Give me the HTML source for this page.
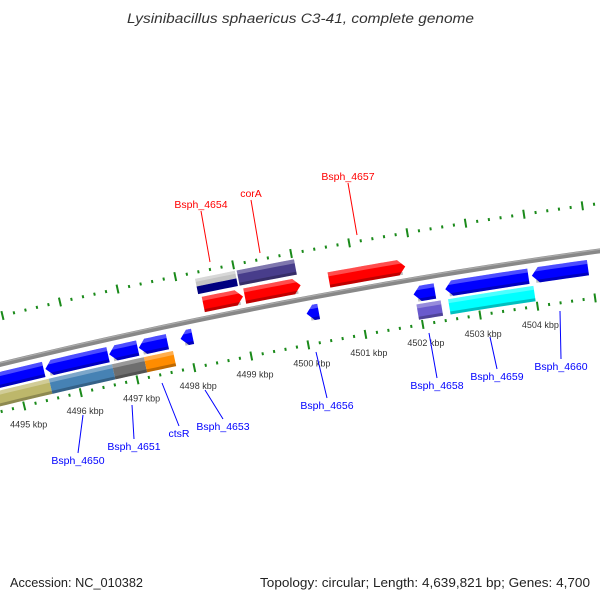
<!DOCTYPE html>
<html><head><meta charset="utf-8"><style>
body{margin:0;background:#fff}
svg{display:block}
text{font-family:"Liberation Sans",sans-serif}
</style></head><body>
<svg id="c" width="600" height="600" viewBox="0 0 600 600" xmlns="http://www.w3.org/2000/svg">
<text x="127" y="23" textLength="347" lengthAdjust="spacingAndGlyphs" font-size="13.5" font-style="italic" fill="#333">Lysinibacillus sphaericus C3-41, complete genome</text>
<g id="rings"></g>
<text x="10" y="587" textLength="133" lengthAdjust="spacingAndGlyphs" font-size="13" fill="#222">Accession: NC_010382</text>
<text x="260" y="587" textLength="330" lengthAdjust="spacingAndGlyphs" font-size="13" fill="#222">Topology: circular; Length: 4,639,821 bp; Genes: 4,700</text>
</svg>
<script>
// data
const geneNames = ["Bsph_4650a","Bsph_4650","Bsph_4651","ctsR_r1","Bsph_4653","Bsph_4656","Bsph_4658","Bsph_4659","Bsph_4660","Bsph_4649b","Bsph_4650b","Bsph_4651b","ctsR","Bsph_4658b","Bsph_4659b","Bsph_4654b","corA","Bsph_4654","corA_f","Bsph_4657"];
const geneStart = [4494.3,4495.50,4496.62,4497.14,4497.87,4500.07,4501.93,4502.48,4503.98,4494.3,4495.52,4496.63,4497.19,4501.95,4502.50,4498.32,4499.04,4498.37,4499.09,4500.55];
const geneEnd   = [4495.47,4496.60,4497.12,4497.64,4498.08,4500.28,4502.30,4503.92,4504.95,4495.52,4496.63,4497.19,4497.70,4502.37,4503.98,4499.01,4500.03,4499.06,4500.06,4501.87];
const geneRow   = ["r1","r1","r1","r1","r1","r1","r1","r1","r1","r2","r2","r2","r2","r2","r2","f2","f2","f1","f1","f1"];
const geneStrand= [-1,-1,-1,-1,-1,-1,-1,-1,-1,0,0,0,0,0,0,0,0,1,1,1];
const geneColor = ["#0000ff","#0000ff","#0000ff","#0000ff","#0000ff","#0000ff","#0000ff","#0000ff","#0000ff","#bdb76b","#4682b4","#6e6e6e","#ff8c00","#6a5acd","#00ffff","split","#483d8b","#ff0000","#ff0000","#ff0000"];
const tickKbp = [4495,4496,4497,4498,4499,4500,4501,4502,4503,4504];
const tickLabels = ["4495 kbp","4496 kbp","4497 kbp","4498 kbp","4499 kbp","4500 kbp","4501 kbp","4502 kbp","4503 kbp","4504 kbp"];
const labelText = ["Bsph_4654","corA","Bsph_4657","Bsph_4650","Bsph_4651","ctsR","Bsph_4653","Bsph_4656","Bsph_4658","Bsph_4659","Bsph_4660"];
const labelColor = ["#ff0000","#ff0000","#ff0000","#0000ff","#0000ff","#0000ff","#0000ff","#0000ff","#0000ff","#0000ff","#0000ff"];
const labelX = [201,251,348,78,134,179,223,327,437,497,561];
const labelY = [211,200,183,463,449,436,429,408,388,379,369];
const lineFrom = [[210,262],[260,253],[357,235],[83,415],[132,405],[162,383],[205,390],[316,352],[429,333],[490,337],[560,311]];

const CX=1406, CY=6147, PHI0=-0.20666, K0=4498, DPHI=0.009843;
const RAD={bb:5951,up:5998,lo:5905,f1:5965,f2:5984,r1:5936,r2:5918,lab:5886};
const NS="http://www.w3.org/2000/svg";
const g=document.getElementById('rings');
function phi(k){return PHI0+(k-K0)*DPHI;}
function pt(k,r){const p=phi(k);return [CX+r*Math.sin(p),CY-r*Math.cos(p)];}
function mk(tag,attrs){const e=document.createElementNS(NS,tag);for(const a in attrs)e.setAttribute(a,attrs[a]);return e;}
function arcPts(k1,k2,r,n){const a=[];for(let i=0;i<=n;i++){a.push(pt(k1+(k2-k1)*i/n,r));}return a;}
function poly(pts){return pts.map(p=>p[0].toFixed(2)+','+p[1].toFixed(2)).join(' ');}

// backbone
{
  const a=arcPts(4494,4506,RAD.bb,40);
  const d='M'+a.map(p=>p[0].toFixed(2)+' '+p[1].toFixed(2)).join(' L');
  const p=mk('path',{d:d,stroke:'#888',"stroke-width":5,fill:'none'});
  
  
  g.appendChild(p);
  const a2=arcPts(4494,4506,RAD.bb+1.5,40);
  const p2=mk('path',{d:'M'+a2.map(q=>q[0].toFixed(2)+' '+q[1].toFixed(2)).join(' L'),stroke:'#aaa',"stroke-width":1.2,fill:'none'});
  
  
  g.appendChild(p2);
}
// ticks
for(const row of ['up','lo']){
  for(let i=0;i<=60;i++){
    const k=4494+i*0.2;
    const major=Math.abs(k-Math.round(k))<1e-6;
    const hl=major?4.5:1.5;
    const a=pt(k,RAD[row]-hl), b=pt(k,RAD[row]+hl);
    const l=mk('line',{x1:a[0],y1:a[1],x2:b[0],y2:b[1],stroke:'#1a8a1a',"stroke-width":2});
    
    
    g.appendChild(l);
  }
}
tickKbp.forEach((k,i)=>{
  const p=pt(k,RAD.lab);
  const t=mk('text',{x:p[0].toFixed(1),y:(p[1]+3).toFixed(1),"text-anchor":"middle","font-size":"9",fill:"#333"});
  t.textContent=tickLabels[i];
  
  
  g.appendChild(t);
});
// genes
const H=15.5, AH=0.12;
function shape(k1,k2,rc,h,dir){
  const ro=rc+h/2, ri=rc-h/2;
  if(dir===1){
    const e=Math.max(k1,k2-AH);
    return arcPts(k1,e,ro,6).concat([pt(k2,rc)]).concat(arcPts(e,k1,ri,6));
  } else if(dir===-1){
    const s=Math.min(k2,k1+AH);
    return [pt(k1,rc)].concat(arcPts(s,k2,ro,6)).concat(arcPts(k2,s,ri,6));
  }
  return arcPts(k1,k2,ro,6).concat(arcPts(k2,k1,ri,6));
}
geneNames.forEach((n,i)=>{
  const rc=RAD[geneRow[i]];
  const k1=geneStart[i],k2=geneEnd[i],dir=geneStrand[i];
  const grp=mk('g',{});
  
  
  if(geneColor[i]==='split'){
    grp.appendChild(mk('polygon',{points:poly(shape(k1,k2,rc+H/4,H/2,0)),fill:'#c4c4c4'}));
    grp.appendChild(mk('polygon',{points:poly(shape(k1,k2,rc-H/4,H/2,0)),fill:'#000080'}));
    grp.appendChild(mk('polygon',{points:poly(shape(k1,k2,rc+H/2-1.5,3,0)),fill:'#fff',opacity:0.35}));
  } else {
    grp.appendChild(mk('polygon',{points:poly(shape(k1,k2,rc,H,dir)),fill:geneColor[i]}));
    grp.appendChild(mk('polygon',{points:poly(shape(k1+(dir===-1?AH*0.3:0),k2-(dir===1?AH*0.3:0),rc+H/2-2,4,0)),fill:'#fff',opacity:0.3}));
    grp.appendChild(mk('polygon',{points:poly(shape(k1+(dir===-1?AH*0.5:0),k2-(dir===1?AH*0.5:0),rc-H/2+1.5,3,0)),fill:'#000',opacity:0.25}));
  }
  g.appendChild(grp);
});
// labels
labelText.forEach((t,i)=>{
  const l=mk('line',{x1:lineFrom[i][0],y1:lineFrom[i][1],x2:labelX[i],y2:labelY[i]-(labelY[i]<300?0:10),stroke:labelColor[i],"stroke-width":1});
  
  
  g.appendChild(l);
  const tx=mk('text',{x:labelX[i],y:labelY[i]-(labelY[i]<300?3:-1),"text-anchor":"middle","font-size":"10.5",fill:labelColor[i]});
  tx.textContent=t;
  
  
  g.appendChild(tx);
});
</script>
</body></html>
